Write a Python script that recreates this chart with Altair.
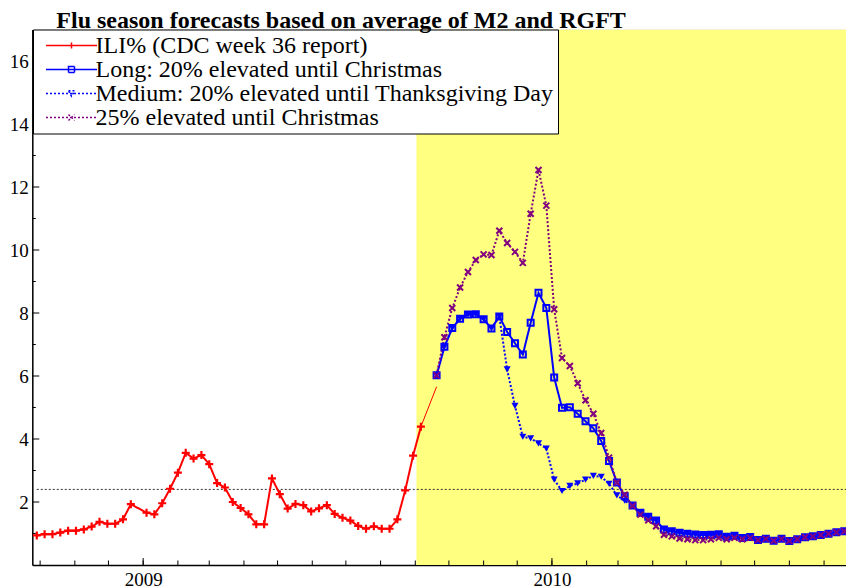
import altair as alt
import pandas as pd

TITLE = "Flu season forecasts based on average of M2 and RGFT"

series_names = [
    "ILI% (CDC week 36 report)",
    "Long: 20% elevated until Christmas",
    "Medium: 20% elevated until Thanksgiving Day",
    "25% elevated until Christmas",
]
series_colors = ["#ff0000", "#0000ff", "#0000ff", "#800080"]
series_dashes = [[1, 0], [1, 0], [2, 2], [2, 2]]

# weekly ILI% (None = week not reported)
ili_start = "2008-09-28"
ili_values = [0.94, 0.98, 0.98, 1.03, 1.09, 1.09, 1.13, 1.22, 1.37, 1.31,
              1.31, 1.45, 1.93, None, 1.66, 1.61, 1.96, 2.42, 2.93, 3.56,
              3.38, 3.49, 3.20, 2.60, 2.46, 2.00, 1.81, 1.61, 1.29, 1.29,
              2.75, 2.25, 1.79, 1.94, 1.90, 1.70, 1.80, 1.90, 1.62, 1.50,
              1.41, 1.24, 1.15, 1.23, 1.15, 1.15, 1.45, 2.37, 3.47, 4.39]

# weekly forecasts
forecast_start = "2009-09-20"
long_values = [6.02, 6.93, 7.52, 7.82, 7.95, 7.96, 7.80, 7.51, 7.89, 7.40,
               7.04, 6.68, 7.69, 8.64, 8.16, 5.95, 4.99, 5.01, 4.80, 4.56,
               4.34, 3.94, 3.30, 2.62, 2.18, 1.89, 1.66, 1.53, 1.41, 1.13,
               1.07, 1.02, 0.99, 0.97, 0.95, 0.96, 0.98, 0.90, 0.93, 0.86,
               0.89, 0.79, 0.83, 0.77, 0.83, 0.76, 0.82, 0.88, 0.91, 0.95,
               0.99, 1.04, 1.07, 1.13]
medium_values = [6.02, 6.93, 7.52, 7.82, 7.95, 7.96, 7.80, 7.51, 7.89, 6.21,
                 5.05, 4.07, 4.02, 3.86, 3.70, 2.71, 2.35, 2.51, 2.59, 2.71,
                 2.83, 2.80, 2.58, 2.21, 2.04, 1.88, 1.66, 1.53, 1.41, 1.13,
                 1.07, 1.02, 0.99, 0.97, 0.95, 0.96, 0.98, 0.90, 0.93, 0.86,
                 0.89, 0.79, 0.83, 0.77, 0.83, 0.76, 0.82, 0.88, 0.91, 0.95,
                 0.99, 1.04, 1.07, 1.13]
high_values = [6.02, 7.23, 8.16, 8.81, 9.30, 9.68, 9.86, 9.84, 10.61, 10.22,
               9.94, 9.59, 11.15, 12.54, 11.41, 8.12, 6.57, 6.32, 5.77, 5.23,
               4.80, 4.19, 3.41, 2.62, 2.23, 1.88, 1.60, 1.42, 1.23, 0.96,
               0.91, 0.84, 0.82, 0.79, 0.79, 0.82, 0.86, 0.82, 0.86, 0.82,
               0.86, 0.79, 0.83, 0.77, 0.83, 0.76, 0.82, 0.88, 0.91, 0.95,
               0.99, 1.04, 1.07, 1.13]

bridge_dates = ["2009-09-06", "2009-09-20"]
bridge_values = [4.39, 5.66]

baseline_value = 2.4
baseline_span = ["2008-09-28", "2010-09-27"]
forecast_shade = ["2009-09-02", "2010-09-27"]

x_domain = [(2008, 9, 24, 0), (2010, 9, 20, 14)]
year_ticks = [(2009, 1, 1, 0), (2010, 1, 1, 0)]
month_ticks = pd.date_range("2008-10-01", "2010-09-01", freq="MS").strftime("%Y-%m-%d").tolist()
y_domain = [0, 17]
y_label_values = [2, 4, 6, 8, 10, 12, 14, 16]
y_minor_values = [1, 3, 5, 7, 9, 11, 13, 15]

FONT = "Liberation Serif, Times New Roman, Times, DejaVu Serif, serif"
W, H = 813.7, 535.5


def weekly(start, n):
    return [(pd.Timestamp(start) + pd.Timedelta(weeks=k)).strftime("%Y-%m-%d") for k in range(n)]


rows = []
for d, v in zip(weekly(ili_start, len(ili_values)), ili_values):
    if v is not None:
        rows.append({"date": d, "value": v, "series": series_names[0]})
for name, vals in zip(series_names[1:], [long_values, medium_values, high_values]):
    for d, v in zip(weekly(forecast_start, len(vals)), vals):
        rows.append({"date": d, "value": v, "series": name})
lines_df = pd.DataFrame(rows)


def dt(t):
    return alt.DateTime(year=t[0], month=t[1], date=t[2], hours=t[3], utc=True)


xscale = alt.Scale(domain=[dt(t) for t in x_domain])
yscale = alt.Scale(domain=y_domain, nice=False, zero=False)

xaxis = alt.Axis(values=[dt(t) for t in year_ticks],
                 labelExpr="utcFormat(datum.value, '%Y')",
                 ticks=False, grid=False, domainColor="black", domainWidth=1.5,
                 labelFont=FONT, labelFontSize=19, labelColor="black",
                 labelPadding=5, labelFlush=False, title=None)
yaxis = alt.Axis(values=y_label_values, ticks=False, grid=False,
                 domainColor="black", domainWidth=1.5,
                 labelFont=FONT, labelFontSize=19, labelColor="black",
                 labelPadding=4, title=None)


def X(field):
    return alt.X(f"{field}:T", scale=xscale, axis=xaxis, title=None)


def Y(field):
    return alt.Y(f"{field}:Q", scale=yscale, axis=yaxis, title=None)


# legend symbols: a short line with the marker in its middle (unit = 3px)
def dotted(a, b, step=1.333, on=0.667):
    s, x = "", a
    while x < b - 0.01:
        s += f"M{x:.3f},0H{min(x + on, b):.3f}"
        x += step
    return s


solid_seg = "M-1,0H16"
legend_paths = [
    solid_seg + "M6.5,0H8.5M7.5,-1V1",
    solid_seg + "M6.5,-1H8.5V1H6.5Z",
    dotted(-1, 16) + "M6.5,-0.9H8.5L7.5,0.9Z",
    dotted(-1, 16) + "M6.5,-1L8.5,1M6.5,1L8.5,-1",
]

legend = alt.Legend(title=None, orient="none", legendX=0.7, legendY=0,
                    labelFont=FONT, labelFontSize=24, labelColor="black",
                    labelLimit=1000, fillColor="white", strokeColor="black",
                    padding=4, rowPadding=0, symbolOffset=0, labelOffset=34.5,
                    symbolSize=36, symbolStrokeWidth=1.5, symbolOpacity=1)

color_scale = alt.Scale(domain=series_names, range=series_colors)

shade = alt.Chart(pd.DataFrame({"start": [forecast_shade[0]], "end": [forecast_shade[1]]})).mark_rect(
    color="#ffff80", clip=True).encode(x=X("start"), x2="end:T", y=alt.value(0), y2=alt.value(H))

baseline = alt.Chart(pd.DataFrame({"start": [baseline_span[0]], "end": [baseline_span[1]],
                                   "value": [baseline_value]})).mark_rule(
    color="#333333", strokeWidth=1, strokeDash=[2, 2], clip=True).encode(x=X("start"), x2="end:T", y=Y("value"))

ytick_major = alt.Chart(pd.DataFrame({"value": y_label_values})).mark_rule(
    color="black", strokeWidth=1).encode(y=Y("value"), x=alt.value(0), x2=alt.value(7))
ytick_minor = alt.Chart(pd.DataFrame({"value": y_minor_values})).mark_rule(
    color="black", strokeWidth=1).encode(y=Y("value"), x=alt.value(0), x2=alt.value(3.5))
xtick_month = alt.Chart(pd.DataFrame({"date": month_ticks})).mark_rule(
    color="black", strokeWidth=1).encode(x=X("date"), y=alt.value(H), y2=alt.value(H - 4.5))
xtick_year = alt.Chart(pd.DataFrame({"date": [f"{t[0]}-{t[1]:02d}-{t[2]:02d}" for t in year_ticks]})).mark_rule(
    color="black", strokeWidth=1).encode(x=X("date"), y=alt.value(H), y2=alt.value(H - 7))

lines = alt.Chart(lines_df).mark_line(strokeWidth=2, clip=True).encode(
    x=X("date"), y=Y("value"),
    color=alt.Color("series:N", scale=color_scale, legend=legend),
    strokeDash=alt.StrokeDash("series:N", scale=alt.Scale(domain=series_names, range=series_dashes),
                              legend=None),
)

bridge = alt.Chart(pd.DataFrame({"date": bridge_dates, "value": bridge_values})).mark_line(
    color="#ff0000", strokeWidth=1).encode(x=X("date"), y=Y("value"))

marker_specs = [
    (0, dict(shape="M-1,0H1M0,-1V1", filled=False, size=64, strokeWidth=2.2)),
    (2, dict(shape="triangle-down", filled=True, size=50, strokeWidth=1)),
    (1, dict(shape="square", filled=False, size=36, strokeWidth=2)),
    (3, dict(shape="M-1,-1L1,1M-1,1L1,-1", filled=False, size=36, strokeWidth=2)),
]
point_layers = []
for idx, spec in marker_specs:
    point_layers.append(
        alt.Chart(lines_df).transform_filter(alt.datum.series == series_names[idx]).mark_point(
            color=series_colors[idx], opacity=1, clip=True, **spec).encode(x=X("date"), y=Y("value"))
    )

# invisible layer that only feeds the legend symbols
legend_layer = alt.Chart(pd.DataFrame({"series": series_names})).mark_point(
    filled=False, opacity=0, size=36, strokeWidth=1.5).encode(
    x=alt.value(W / 2), y=alt.value(H / 2),
    color=alt.Color("series:N", scale=color_scale, legend=legend),
    shape=alt.Shape("series:N", scale=alt.Scale(domain=series_names, range=legend_paths), legend=legend),
)

chart = alt.layer(
    shade, baseline, ytick_major, ytick_minor, xtick_month, xtick_year,
    lines, bridge, *point_layers, legend_layer,
).properties(
    width=W, height=H,
    title=alt.TitleParams(text=TITLE, anchor="start", frame="group", font=FONT, fontSize=24,
                          fontWeight="bold", color="black", dx=24, dy=7.5, offset=4),
    autosize=alt.AutoSizeParams(type="none"),
    padding={"left": 24.3, "top": 21.5, "right": 0, "bottom": 23},
    background="white",
).configure_view(stroke=None).configure_legend(strokeWidth=1.5).configure(font=FONT)

chart.save("out.html", embed_options={"renderer": "svg", "actions": False})
